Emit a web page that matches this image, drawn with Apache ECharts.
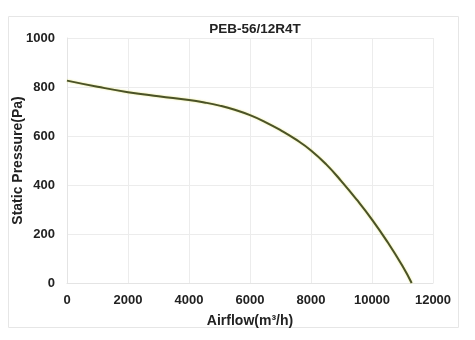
<!DOCTYPE html>
<html>
<head>
<meta charset="utf-8">
<script src="https://cdn.jsdelivr.net/npm/echarts@6/dist/echarts.min.js"></script>
<style>
html,body{margin:0;padding:0;background:#fff;}
#chart{width:475px;height:340px;}
</style>
</head>
<body>
<div id="chart"></div>
<script>
// curve
var airflow = [0, 1000, 2000, 3000, 4000, 4500, 5000, 5500, 6000, 6500, 7000, 7500, 8000, 8500, 9000, 9500, 10000, 10500, 11000, 11300];
var pressure = [826, 801, 779, 762, 747, 737, 724, 707, 685, 657, 624, 586, 541, 484, 415, 340, 259, 169, 69, 0];
var xTicks = [0, 2000, 4000, 6000, 8000, 10000, 12000];
var yTicks = [0, 200, 400, 600, 800, 1000];

var pts = [];
for (var i = 0; i < airflow.length; i++) {
  pts.push([airflow[i], pressure[i]]);
}

var font = 'Liberation Sans, Arial, sans-serif';
var tick = {color: '#222', fontSize: 13, fontWeight: 'bold', fontFamily: font};
var nm = {color: '#222', fontSize: 14, fontWeight: 'bold', fontFamily: font};

echarts.init(document.getElementById('chart')).setOption({
  backgroundColor: '#fff',
  animation: false,
  title: {
    text: 'PEB-56/12R4T',
    left: 250, top: 17, textAlign: 'center',
    textStyle: {color: '#222', fontSize: 13.5, fontWeight: 'bold', fontFamily: font}
  },
  graphic: [{
    type: 'rect',
    shape: {x: 8.5, y: 16.5, width: 450, height: 311},
    style: {fill: 'none', stroke: '#e6e6e6', lineWidth: 1},
    silent: true
  }],
  grid: {left: 67, right: 42, top: 38, bottom: 57, outerBoundsMode: 'none'},
  xAxis: {
    type: 'value',
    min: xTicks[0], max: xTicks[xTicks.length - 1], interval: 2000,
    name: 'Airflow(m³/h)', nameLocation: 'middle', nameGap: 31,
    nameMoveOverlap: false,
    nameTextStyle: nm,
    axisLine: {show: true, lineStyle: {color: '#e4e4e4'}},
    axisTick: {show: false},
    axisLabel: Object.assign({margin: 11, formatter: function (v) { return String(v); }}, tick),
    splitLine: {lineStyle: {color: '#ececec'}}
  },
  yAxis: {
    type: 'value',
    min: yTicks[0], max: yTicks[yTicks.length - 1], interval: 200,
    name: 'Static Pressure(Pa)', nameLocation: 'middle', nameGap: 42,
    nameMoveOverlap: false,
    nameTextStyle: nm,
    axisLine: {show: true, lineStyle: {color: '#e4e4e4'}},
    axisTick: {show: false},
    axisLabel: Object.assign({margin: 12, formatter: function (v) { return String(v); }}, tick),
    splitLine: {lineStyle: {color: '#ececec'}}
  },
  series: [{
    type: 'line',
    data: pts,
    smooth: true,
    showSymbol: false,
    lineStyle: {color: '#4a5228', width: 2, shadowColor: 'rgba(225,225,90,0.8)', shadowBlur: 2}
  }]
});
</script>
</body>
</html>
